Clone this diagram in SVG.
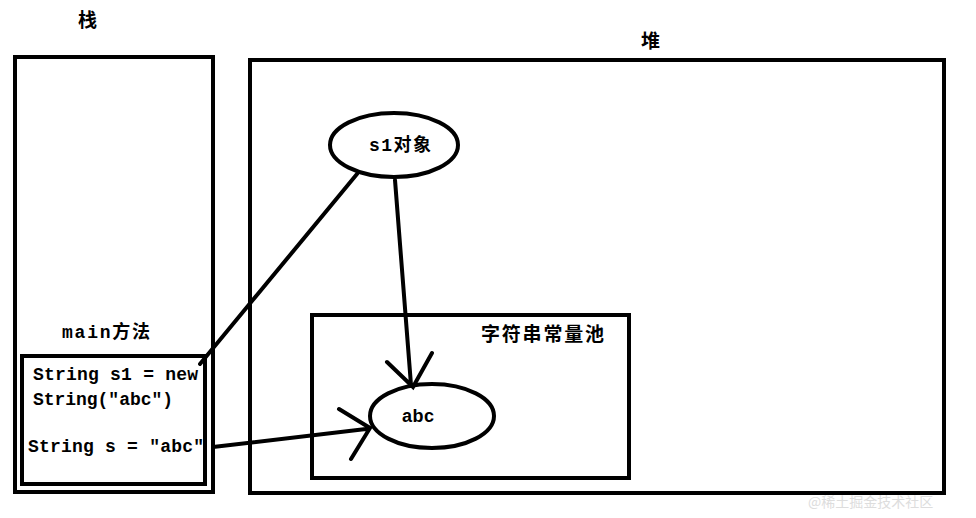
<svg xmlns="http://www.w3.org/2000/svg" width="976" height="518" viewBox="0 0 976 518">
<style>
.b{fill:none;stroke:#000;stroke-width:4}
.l{fill:none;stroke:#000;stroke-width:4;stroke-linecap:round}
.t{font-family:"Liberation Serif","Noto Sans CJK SC",serif;font-size:19px;font-weight:bold;fill:#000}
.m{font-family:"Liberation Mono","Noto Sans CJK SC",monospace;font-size:18px;font-weight:bold;fill:#000}
</style>
<rect width="976" height="518" fill="#fff"/>
<g id="stack"><rect class="b" x="15" y="57" width="198" height="435"/><text class="t" x="78" y="27">栈</text></g>
<g id="heap"><rect class="b" x="250" y="60" width="694" height="433"/><text class="t" x="641" y="48">堆</text></g>
<g id="main"><rect class="b" x="22" y="356" width="183" height="128"/><text class="m" x="62" y="338" textLength="88">main方法</text>
<text class="m" x="33" y="380" textLength="165">String s1 = new</text><text class="m" x="33" y="405" textLength="140">String(″abc″)</text><text class="m" x="28" y="452" textLength="176">String s = ″abc″</text></g>
<g id="pool"><rect class="b" x="312" y="315" width="317" height="163"/><text class="t" x="481" y="341" textLength="123">字符串常量池</text></g>
<g id="s1obj"><ellipse class="b" cx="394" cy="145" rx="64" ry="32"/><text class="m" x="369" y="151" textLength="62">s1对象</text></g>
<g id="abc"><ellipse class="b" cx="432" cy="416" rx="62" ry="32"/><text x="402" y="422" font-family="Liberation Sans,sans-serif" font-size="18" font-weight="bold" textLength="32">abc</text></g>
<g id="connectors">
<path class="l" d="M200 364 L357 174"/>
<path class="l" d="M395 180 L411 385 M387 362 L413 387 L432 353"/>
<path class="l" d="M213 447 L366 429 M339 409 L370 428 L351 459"/>
</g>
<text x="808" y="507" font-family="Noto Sans CJK SC,sans-serif" font-size="14" fill="#ddd">@稀土掘金技术社区</text>
</svg>
